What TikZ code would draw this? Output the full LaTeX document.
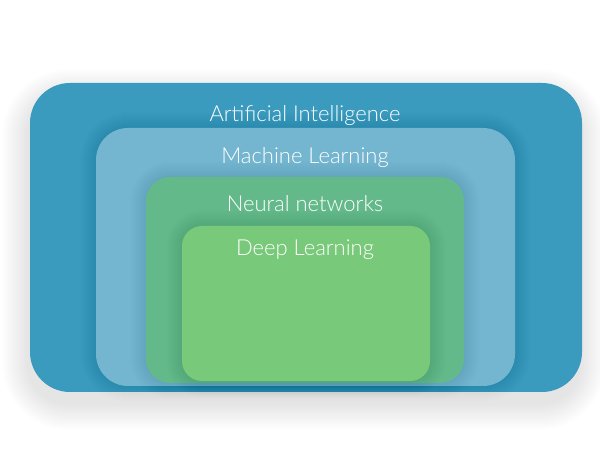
\documentclass[tikz,border=0pt]{standalone}
\usepackage{fontspec}
\setmainfont{Lato}[UprightFont=* Light]
\definecolor{aiblue}{HTML}{3A9BBF}
\definecolor{mlblue}{HTML}{74B5CF}
\definecolor{nngreen}{HTML}{64B98A}
\definecolor{dlgreen}{HTML}{79C97A}
\tikzset{
  layer/.style={draw=none, inner sep=0pt, rectangle},
  lbl/.style={text=white, anchor=base, inner sep=0pt, font=\fontsize{22}{26}\selectfont},
}
% soft shadow: center x, center y, width, height, radius, steps, opacity, yshift
\newcommand{\mysoftshadow}[8]{%
  \foreach \i in {1,...,#6}{%
    \pgfmathsetmacro{\xa}{#1-#3/2-\i}%
    \pgfmathsetmacro{\xb}{#1+#3/2+\i}%
    \pgfmathsetmacro{\ya}{#2-#4/2-\i+#8}%
    \pgfmathsetmacro{\yb}{#2+#4/2+\i+#8}%
    \pgfmathsetmacro{\rr}{#5+\i}%
    \fill[black, opacity=#7, rounded corners=\rr pt] (\xa,\ya) rectangle (\xb,\yb);
  }%
}
\begin{document}
\begin{tikzpicture}[x=1pt,y=1pt]
\useasboundingbox (0,0) rectangle (600,450);
\fill[white] (0,0) rectangle (600,450);
\mysoftshadow{304}{212.5}{552}{309}{40}{26}{0.005}{-12}
\node[layer, fill=aiblue, minimum width=552pt, minimum height=309pt, rounded corners=40pt] (ai) at (306,212.5) {};
\mysoftshadow{305.5}{193}{419}{258}{32}{16}{0.005}{0}
\node[layer, fill=mlblue, minimum width=419pt, minimum height=258pt, rounded corners=32pt] (ml) at (305.5,193) {};
\mysoftshadow{305}{170}{318}{206}{24}{16}{0.005}{0}
\node[layer, fill=nngreen, minimum width=318pt, minimum height=206pt, rounded corners=24pt] (nn) at (305,170) {};
\mysoftshadow{306}{146.5}{248}{155}{20}{16}{0.005}{0}
\node[layer, fill=dlgreen, minimum width=248pt, minimum height=155pt, rounded corners=20pt] (dl) at (306,146.5) {};
\node[lbl] (ailabel) at (305,328) {Artificial Intelligence};
\node[lbl] (mllabel) at (305,286) {Machine Learning};
\node[lbl] (nnlabel) at (305,238) {Neural networks};
\node[lbl] (dllabel) at (305,194) {Deep Learning};
\end{tikzpicture}
\end{document}
